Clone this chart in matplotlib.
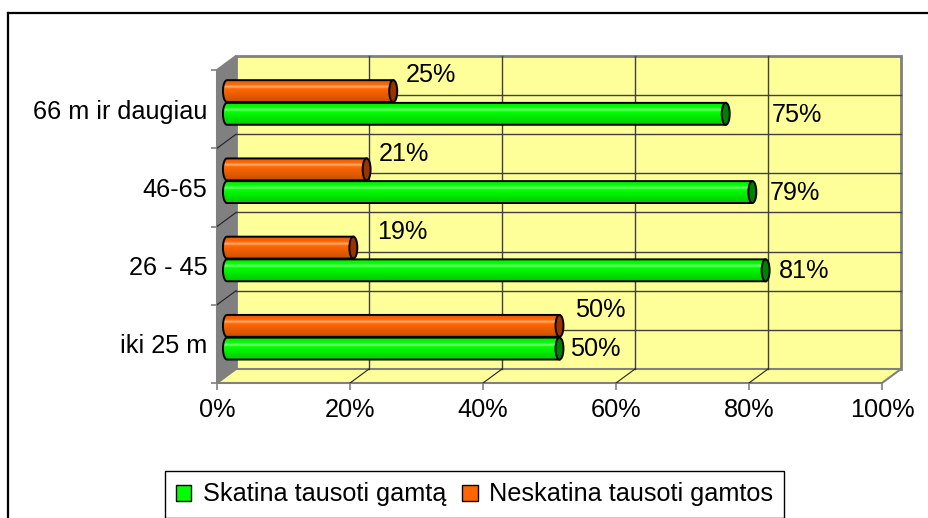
import numpy as np
import matplotlib.pyplot as plt
from matplotlib.patches import Polygon, Ellipse, PathPatch, Patch
from matplotlib.path import Path
from matplotlib.colors import to_rgb
from matplotlib.lines import Line2D

# data
categories = ['iki 25 m', '26 - 45', '46-65', '66 m ir daugiau']
skatina = [50, 81, 79, 75]
neskatina = [50, 19, 21, 25]
series_names = ['Skatina tausoti gamtą', 'Neskatina tausoti gamtos']
x_ticks = [0, 20, 40, 60, 80, 100]

plt.rcParams['font.family'] = ['Liberation Sans', 'DejaVu Sans']
FS = 18.2

W, H = 929, 518
fig = plt.figure(figsize=(W / 100, H / 100), dpi=100)
ax = fig.add_axes([217 / W, 1 - 383 / H, (882 - 217) / W, (383 - 70) / H])

# depth of the 3d box in data units
DX, DY = 2.86, 0.179
# bars sit a bit behind the front plane
BX, BY = 1.5, 0.085
BAR_H = 0.28
CAP = 0.6

wall = '#FFFF99'
edge = '#808080'
ax.add_patch(Polygon([(DX, DY), (100 + DX, DY), (100 + DX, 4 + DY), (DX, 4 + DY)],
                     fc=wall, ec=edge, lw=2, clip_on=False, zorder=0))
ax.add_patch(Polygon([(0, 0), (DX, DY), (DX, 4 + DY), (0, 4)],
                     fc=edge, ec=edge, lw=1.5, clip_on=False, zorder=0.5))
ax.add_patch(Polygon([(0, 0), (100, 0), (100 + DX, DY), (DX, DY)],
                     fc=wall, ec=edge, lw=1.5, clip_on=False, zorder=0.5))

for x in x_ticks[1:-1]:
    ax.plot([x + DX, x + DX], [DY, 4 + DY], color='#404040', lw=1, zorder=0.6, clip_on=False)
    ax.plot([x, x + DX], [0, DY], color='#202020', lw=0.8, zorder=0.6, clip_on=False)
for k in range(1, 8):
    ax.plot([DX, 100 + DX], [k / 2 + DY] * 2, color='#404040', lw=1, zorder=0.6, clip_on=False)
for k in range(1, 4):
    ax.plot([0, DX], [k, k + DY], color='#202020', lw=0.8, zorder=0.6, clip_on=False)


def shade(color, n=60):
    base = np.array(to_rgb(color))
    t = np.linspace(0, 1, n)
    fac = np.interp(t, [0, 0.2, 0.42, 1], [0.92, 1.0, 1.0, 0.78])
    col = np.clip(base[None, :] * fac[:, None], 0, 1)
    glow = np.exp(-((t - 0.3) / 0.06) ** 2) * 0.45
    col = col + (1 - col) * glow[:, None]
    return col[:, None, :]


def cylinder(x0, length, yc, color, cap_color):
    h = BAR_H
    th = np.linspace(np.pi / 2, 3 * np.pi / 2, 30)
    verts = list(zip(x0 + CAP * np.cos(th), yc + h / 2 * np.sin(th)))
    verts += [(x0 + length, yc - h / 2), (x0 + length, yc + h / 2), (x0, yc + h / 2)]
    body = Path(verts)
    outline = PathPatch(body, fc='none', ec='black', lw=1.4, zorder=3)
    ax.add_patch(outline)
    im = ax.imshow(shade(color), extent=[x0 - CAP, x0 + length, yc - h / 2, yc + h / 2],
                   aspect='auto', origin='upper', zorder=2, interpolation='bilinear')
    im.set_clip_path(outline)
    ax.add_patch(Ellipse((x0 + length, yc), 2 * CAP, h, fc=cap_color, ec='black',
                         lw=1.4, zorder=4))


green, green_cap = '#00FF00', '#008000'
orange, orange_cap = '#FF6600', '#993300'
green_nudge = [1.55, 2.05, 2.65, 6.85]
orange_nudge = [2.35, 3.55, 1.75, 1.95]

for i, (g, o) in enumerate(zip(skatina, neskatina)):
    yc = i + 0.5 + BY
    yg = yc - BAR_H / 2 - 0.005
    yo = yc + BAR_H / 2 + 0.005
    cylinder(BX, g, yg, green, green_cap)
    cylinder(BX, o, yo, orange, orange_cap)
    ax.text(BX + g + green_nudge[i], yg - 0.01, f'{g}%', fontsize=FS,
            va='center', ha='left', zorder=5)
    ax.text(BX + o + orange_nudge[i], yo + 0.2, f'{o}%', fontsize=FS,
            va='center', ha='left', zorder=5)

ax.set_xlim(0, 100)
ax.set_ylim(0, 4)
ax.set_xticks(x_ticks)
ax.set_xticklabels([f'{t}%' for t in x_ticks])
ax.set_yticks([i + 0.5 for i in range(len(categories))])
ax.set_yticklabels(categories)
ax.set_yticks(range(len(categories) + 1), minor=True)
ax.tick_params(axis='x', length=5, color=edge, width=1.2, pad=6, labelsize=FS)
ax.tick_params(axis='y', which='major', length=0, pad=7, labelsize=FS)
ax.tick_params(axis='y', which='minor', length=4, color=edge, width=1.2)
for s in ax.spines.values():
    s.set_visible(False)
ax.patch.set_visible(False)

# chart area border (left and top only are inside the image)
fig.add_artist(Line2D([8 / W, 8 / W], [0, 1 - 13 / H], transform=fig.transFigure,
                      color='black', lw=1.6))
fig.add_artist(Line2D([8 / W, 1], [1 - 13 / H, 1 - 13 / H], transform=fig.transFigure,
                      color='black', lw=1.6))

handles = [Patch(fc=green, ec='black', lw=1), Patch(fc=orange, ec='black', lw=1)]
leg = fig.legend(handles, series_names, ncol=2, loc='center',
                 bbox_to_anchor=(474.5 / W, 1 - 494.5 / H), frameon=True, fancybox=False,
                 edgecolor='black', framealpha=1, fontsize=FS, handlelength=0.6,
                 handleheight=0.6, handletextpad=0.45, columnspacing=0.65,
                 borderpad=0.45, borderaxespad=0)
leg.get_frame().set_linewidth(1)

fig.savefig('out.png', dpi=100)
